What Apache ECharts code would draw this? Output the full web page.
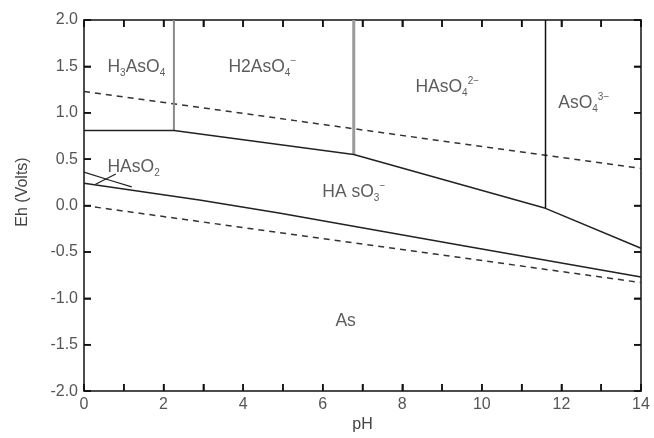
<!DOCTYPE html>
<html>
<head>
<meta charset="utf-8">
<script src="https://cdn.jsdelivr.net/npm/echarts@6/dist/echarts.min.js"></script>
<style>
html,body{margin:0;padding:0;background:#fff;}
#chart{width:654px;height:438px;}
</style>
</head>
<body>
<div id="chart"></div>
<script>
// ---- data ----
const xTicks = [0, 2, 4, 6, 8, 10, 12, 14];
const yTicks = [-2.0, -1.5, -1.0, -0.5, 0.0, 0.5, 1.0, 1.5, 2.0];
const xTickMarks = [0, 1, 2, 3, 4, 5, 6, 7, 8, 9, 10, 11, 12, 13, 14];
const yTickMarks = [-2.0, -1.5, -1.0, -0.5, 0.0, 0.5, 1.0, 1.5, 2.0];

// solid boundaries (pH, Eh)
const bH3AsO4_H2AsO4 = [[2.26, 0.81], [2.26, 2.0]];
const bH2AsO4_HAsO4 = [[6.78, 0.55], [6.78, 2.0]];
const bHAsO4_AsO4 = [[11.6, -0.03], [11.6, 2.0]];
const bUpper = [[0, 0.81], [2.26, 0.81], [6.78, 0.55], [11.6, -0.03], [14, -0.46]];
const bAs = [[0, 0.24], [2.9, 0.06], [4.9, -0.08], [9.5, -0.43], [14, -0.77]];
const bHAsO2a = [[0, 0.36], [0.67, 0.27], [1.2, 0.2]];
const bHAsO2b = [[0.29, 0.23], [0.8, 0.34]];

// water stability (dashed)
const waterO2 = [[0, 1.23], [14, 0.40]];
const waterH2 = [[0, 0.0], [14, -0.83]];

// species labels
const speciesPos = [[0.59, 1.49], [3.63, 1.49], [8.33, 1.28], [11.92, 1.10], [0.59, 0.41], [5.99, 0.14], [6.32, -1.25]];
const speciesText = [
  '{n|H}{s|3}{n|AsO}{s|4}',
  '{n|H2AsO}{s|4}{p|−}',
  '{n|HAsO}{s|4}{p|2−}',
  '{n|AsO}{s|4}{p|3−}',
  '{n|HAsO}{s|2}',
  '{n|HA sO}{s|3}{p|−}',
  '{n|As}'
];

const FONT = 'Liberation Sans, Arial, sans-serif';
const rich = {
  n: {fontSize: 17.5, color: '#333', lineHeight: 22, fontFamily: FONT},
  s: {fontSize: 10, color: '#333', verticalAlign: 'bottom', lineHeight: 10, fontFamily: FONT},
  p: {fontSize: 10, color: '#333', verticalAlign: 'top', lineHeight: 10, fontFamily: FONT}
};

function solid(data, color, width) {
  return {type: 'line', data: data, symbol: 'none', silent: true, animation: false,
    lineStyle: {color: color, width: width}, xAxisIndex: 0, yAxisIndex: 0};
}
function dashed(data) {
  return {type: 'line', data: data, symbol: 'none', silent: true, animation: false,
    lineStyle: {color: '#333', width: 1.5, type: [6, 5]}, xAxisIndex: 0, yAxisIndex: 0};
}
function axLine() { return {show: true, onZero: false, lineStyle: {color: '#111', width: 1.5}}; }
function axTick() { return {show: true, inside: true, length: 7, lineStyle: {color: '#111', width: 1.5}}; }

// inward tick marks on all four frame sides, placed through the axes' own scales
const tickData = xTickMarks.map(v => [v, 0]).concat(yTickMarks.map(v => [v, 1]));
const TICK_LEN = 7;
function renderTick(params, api) {
  const v = api.value(0), kind = api.value(1);
  const st = {stroke: '#111', lineWidth: 1.5};
  if (kind === 0) {
    const b = api.coord([v, -2]), t = api.coord([v, 2]);
    return {type: 'group', children: [
      {type: 'line', shape: {x1: b[0], y1: b[1], x2: b[0], y2: b[1] - TICK_LEN}, style: st},
      {type: 'line', shape: {x1: t[0], y1: t[1], x2: t[0], y2: t[1] + TICK_LEN}, style: st}
    ]};
  }
  const l = api.coord([0, v]), r = api.coord([14, v]);
  return {type: 'group', children: [
    {type: 'line', shape: {x1: l[0], y1: l[1], x2: l[0] + TICK_LEN, y2: l[1]}, style: st},
    {type: 'line', shape: {x1: r[0], y1: r[1], x2: r[0] - TICK_LEN, y2: r[1]}, style: st}
  ]};
}

const chart = echarts.init(document.getElementById('chart'), null, {renderer: 'canvas'});
const option = {
  animation: false,
  backgroundColor: '#fff',
  grid: {left: 84, right: 13, top: 20, bottom: 40, containLabel: false},
  xAxis: [
    {type: 'value', min: 0, max: 14, interval: 1, position: 'bottom',
      axisLine: axLine(), axisTick: axTick(),
      axisLabel: {margin: 5, color: '#555', fontSize: 16, fontFamily: FONT,
        formatter: v => (xTicks.indexOf(v) >= 0 ? String(v) : '')},
      splitLine: {show: false},
      name: 'pH', nameLocation: 'middle', nameGap: 24,
      nameTextStyle: {color: '#444', fontSize: 16, fontFamily: FONT}},
    {type: 'value', min: 0, max: 14, interval: 1, position: 'top',
      axisLine: axLine(), axisTick: axTick(),
      axisLabel: {show: false}, splitLine: {show: false}}
  ],
  yAxis: [
    {type: 'value', min: -2, max: 2, interval: 0.5, position: 'left',
      axisLine: axLine(), axisTick: axTick(),
      axisLabel: {margin: 6, color: '#555', fontSize: 16, fontFamily: FONT,
        formatter: v => (yTicks.some(t => Math.abs(t - v) < 1e-9) ? v.toFixed(1) : '')},
      splitLine: {show: false}},
    {type: 'value', min: -2, max: 2, interval: 0.5, position: 'right',
      axisLine: axLine(), axisTick: axTick(),
      axisLabel: {show: false}, splitLine: {show: false}}
  ],
  graphic: [{
    type: 'text', x: 23, y: 192, rotation: Math.PI / 2,
    style: {text: 'Eh (Volts)', fill: '#444', fontSize: 16, fontFamily: FONT,
      align: 'center', verticalAlign: 'middle'}
  }],
  series: [
    dashed(waterO2),
    dashed(waterH2),
    solid(bH3AsO4_H2AsO4, '#8a8a8a', 2),
    solid(bH2AsO4_HAsO4, '#9a9a9a', 3),
    solid(bHAsO4_AsO4, '#111', 1.5),
    solid(bUpper, '#222', 1.5),
    solid(bAs, '#222', 1.5),
    solid(bHAsO2a, '#222', 1.3),
    solid(bHAsO2b, '#222', 1.3),
    {type: 'custom', silent: true, animation: false, clip: false, xAxisIndex: 0, yAxisIndex: 0,
      data: tickData, renderItem: renderTick, z: 5},
    {type: 'scatter', symbolSize: 0, silent: true, animation: false,
      data: speciesPos.map((p, i) => ({value: p, label: {show: true, position: 'right', distance: 0,
        formatter: speciesText[i], rich: rich}}))}
  ]
};
chart.setOption(option);
</script>
</body>
</html>
